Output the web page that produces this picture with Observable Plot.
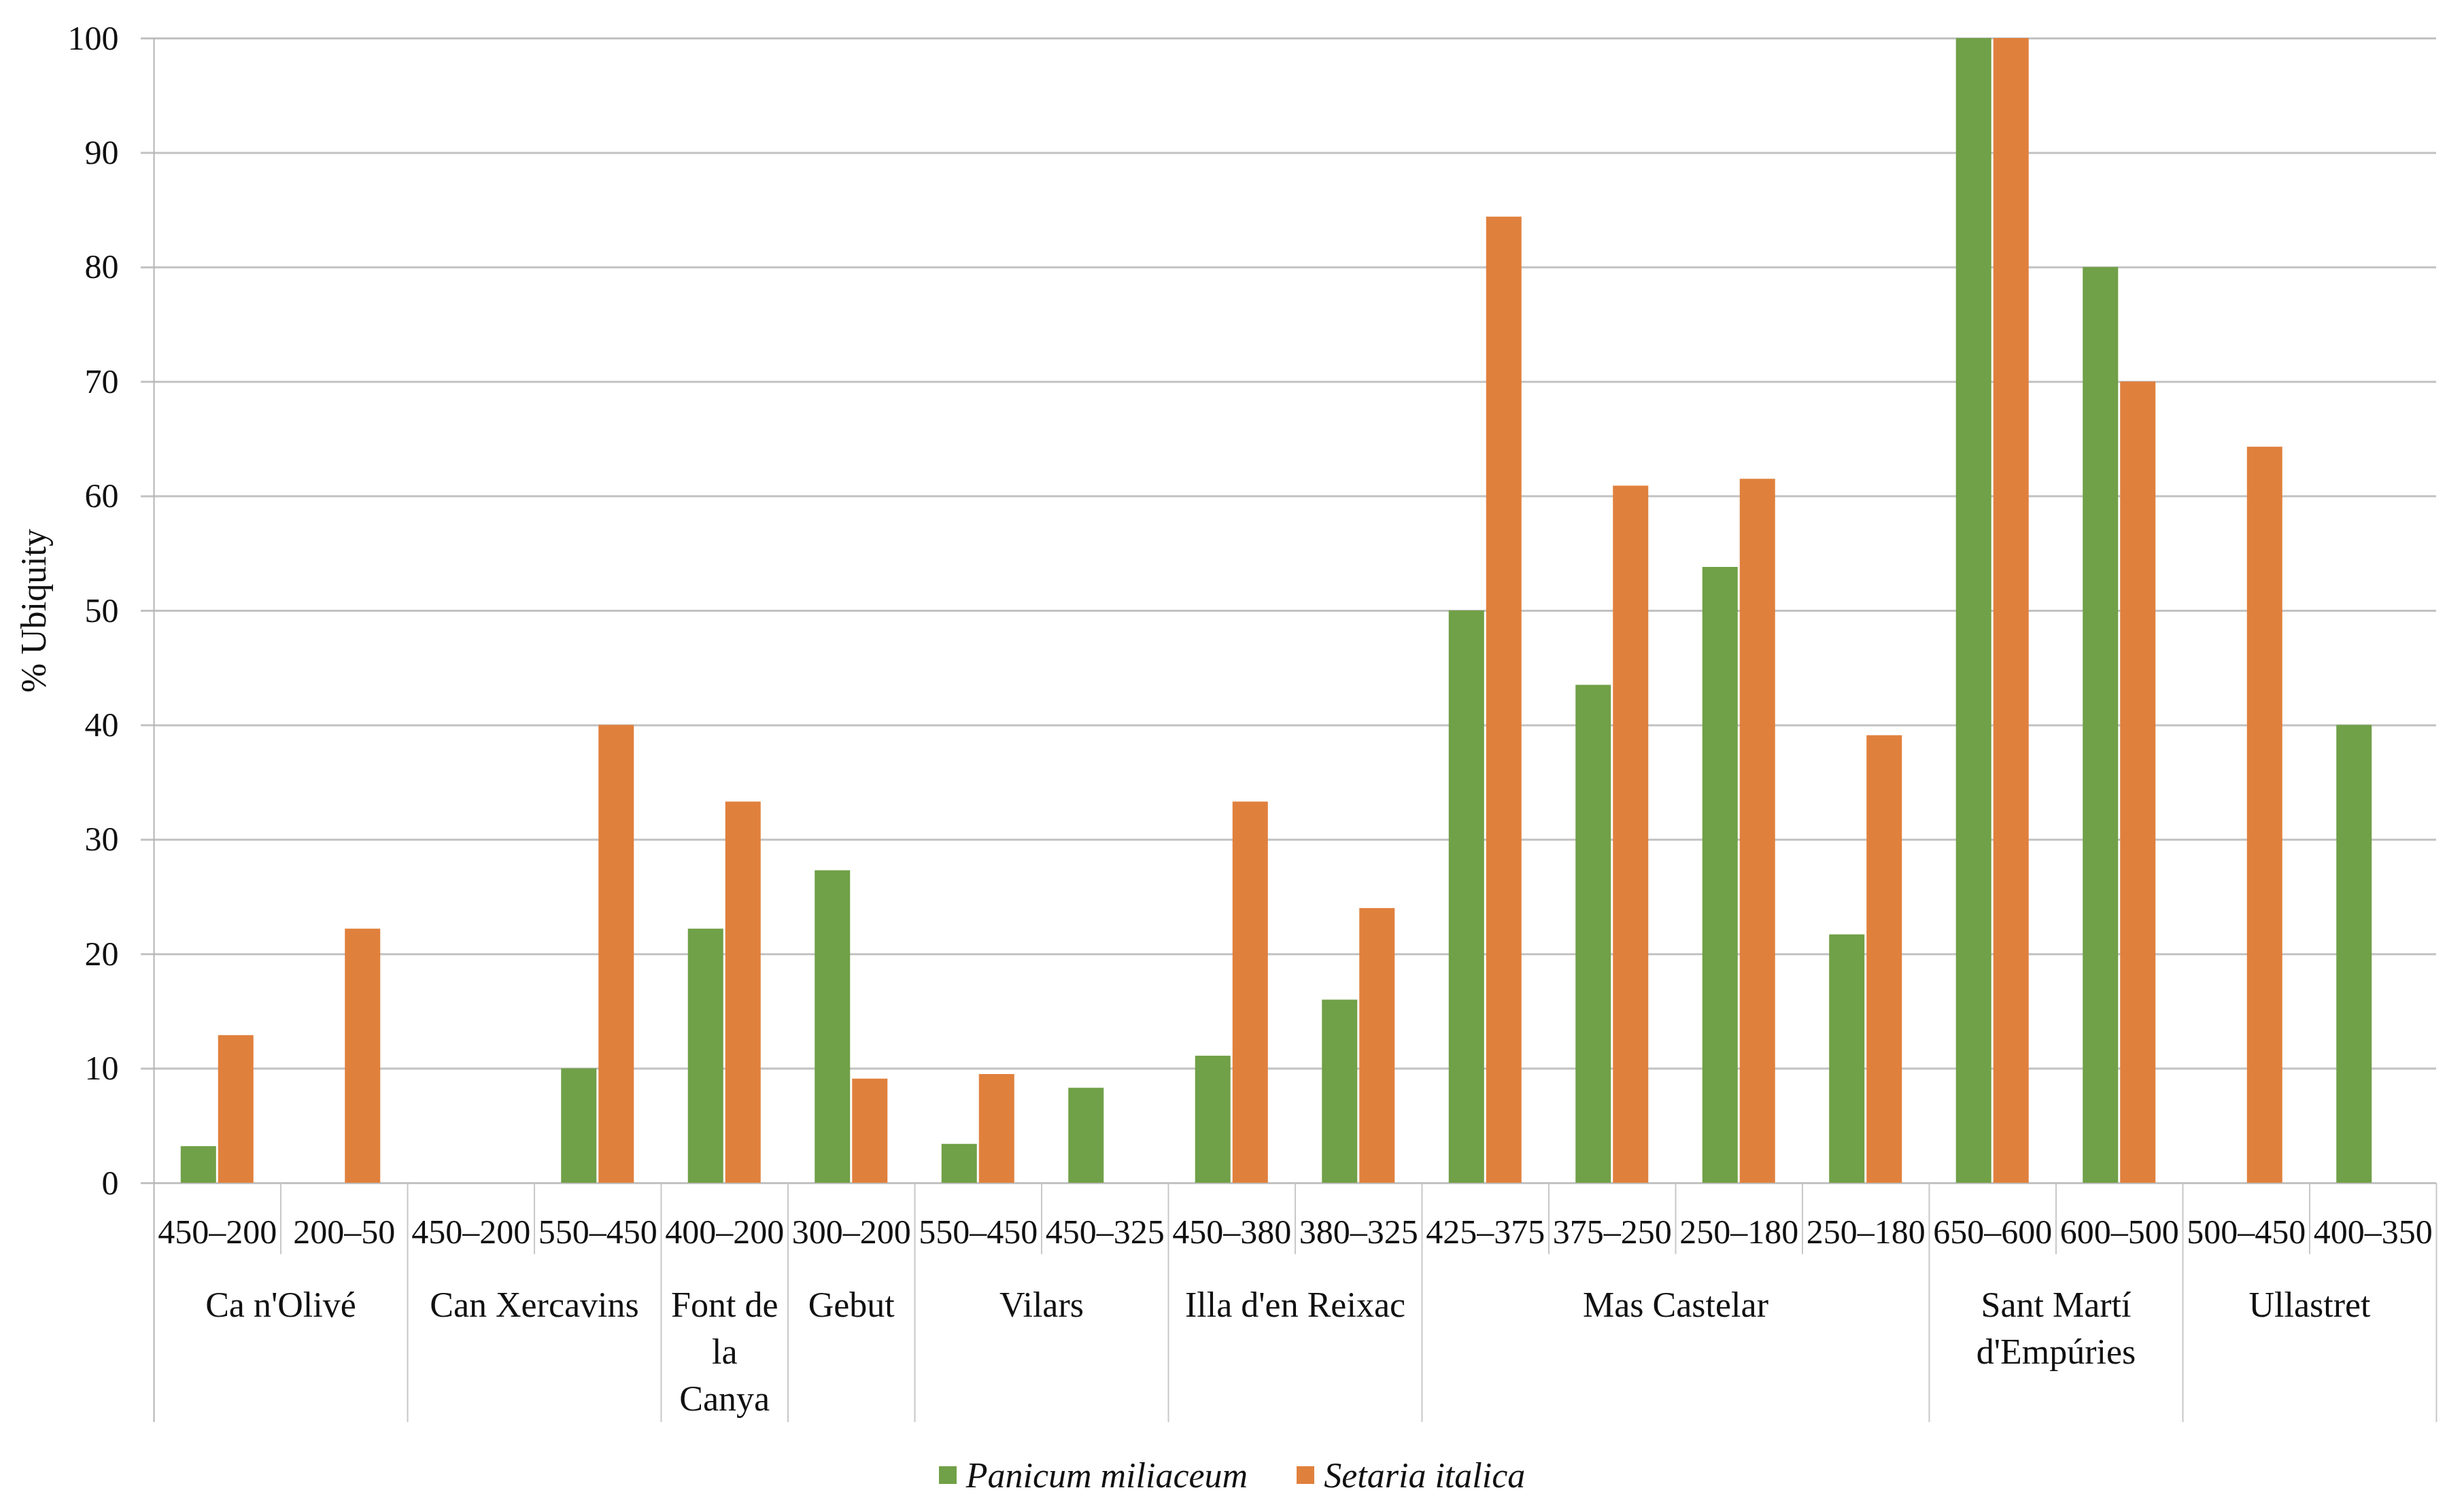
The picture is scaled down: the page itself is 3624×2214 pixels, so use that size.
<!DOCTYPE html>
<html><head><meta charset="utf-8">
<script src="https://cdn.jsdelivr.net/npm/d3@7"></script>
<script src="https://cdn.jsdelivr.net/npm/@observablehq/plot@0.6"></script>
<style>
body{margin:0;background:#fff;}
#legend{display:flex;justify-content:center;align-items:center;height:100px;font-family:"Liberation Serif",serif;font-style:italic;font-size:52px;color:#111;}
.item{display:flex;align-items:center;margin:0 36px;}
.sw{width:26px;height:26px;margin-right:14px;}
</style></head><body>
<div id="chart"></div>
<div id="legend"></div>
<script>
// ---- data ----
const periods = ["450–200","200–50","450–200","550–450","400–200","300–200","550–450","450–325","450–380","380–325","425–375","375–250","250–180","250–180","650–600","600–500","500–450","400–350"];
const sites = ["Ca n'Olivé","Can Xercavins","Font de\nla\nCanya","Gebut","Vilars","Illa d'en Reixac","Mas Castelar","Sant Martí\nd'Empúries","Ullastret"];
const siteSpans = [2,2,1,1,2,2,4,2,2];
const panicum = [3.2,0,0,10,22.2,27.3,3.4,8.3,11.1,16,50,43.5,53.8,21.7,100,80,0,40];
const setaria = [12.9,22.2,0,40,33.3,9.1,9.5,0,33.3,24,84.4,60.9,61.5,39.1,100,70,64.3,0];
const seriesNames = ["Panicum miliaceum","Setaria italica"];
const colors = ["#70a047","#e0803d"];
const yTicks = d3.range(0, 101, 10);
const yTitle = "% Ubiquity";

// ---- derived tables ----
const cats = periods.map((p, i) => ({i, period: p, panicum: panicum[i], setaria: setaria[i]}));
let acc = 0;
const groups = sites.map((name, k) => {
  const start = acc; acc += siteSpans[k];
  return {name, start, end: acc, mid: (start + acc) / 2};
});
const longB = groups.map(g => g.end);          // site boundaries (excluding 0)
const groupStarts = new Set([0, ...longB]);
const shortB = d3.range(1, periods.length).filter(b => !groupStarts.has(b));

const W = 3624, H = 2120, mL = 226, mR = 41, mT = 56, mB = 380;
const bw = (W - mL - mR) / periods.length;
const b = 52, gap = 3;
const L = (bw - 2 * b - gap) / 2;
const gridColor = "#c2c2c2";

const chart = Plot.plot({
  width: W, height: H,
  marginLeft: mL, marginRight: mR, marginTop: mT, marginBottom: mB,
  style: {fontFamily: "'Liberation Serif', serif", fontSize: "50px", color: "#111", background: "#fff", overflow: "visible"},
  x: {type: "linear", domain: [0, periods.length], axis: null},
  y: {domain: [0, 100], axis: null},
  marks: [
    Plot.ruleY(yTicks, {y: d => d, stroke: gridColor, strokeWidth: 3}),
    Plot.ruleY(yTicks, {y: d => d, x1: 0, x2: 0, insetLeft: -19, stroke: gridColor, strokeWidth: 3}),
    Plot.axisY(yTicks, {tickSize: 0, tickPadding: 52, fontSize: 50, label: null}),
    Plot.rectY(cats, {x1: "i", x2: d => d.i + 1, y1: 0, y2: "panicum", fill: colors[0], insetLeft: L, insetRight: bw - L - b}),
    Plot.rectY(cats, {x1: "i", x2: d => d.i + 1, y1: 0, y2: "setaria", fill: colors[1], insetLeft: L + b + gap, insetRight: L}),
    Plot.ruleX([0], {x: d => d, y1: 100, y2: 0, insetBottom: -352, stroke: "#b4b4b4", strokeWidth: 2}),
    Plot.ruleX(longB, {x: d => d, y1: 0, y2: 0, insetBottom: -352, stroke: "#c8c8c8", strokeWidth: 2}),
    Plot.ruleX(shortB, {x: d => d, y1: 0, y2: 0, insetBottom: -105, stroke: "#c8c8c8", strokeWidth: 2}),
    Plot.text(cats, {x: d => d.i + 0.5, y: 0, dy: 53, lineAnchor: "top", text: "period", fontSize: 50}),
    Plot.text(groups, {x: "mid", y: 0, dy: 147, lineAnchor: "top", lineHeight: 1.33, text: "name", fontSize: 52}),
    Plot.text([yTitle], {x: 0, y: 50, dx: -176, rotate: -90, text: d => d, fontSize: 52})
  ]
});
document.getElementById("chart").appendChild(chart);

const lg = document.getElementById("legend");
seriesNames.forEach((n, k) => {
  const it = document.createElement("div"); it.className = "item";
  const sw = document.createElement("div"); sw.className = "sw"; sw.style.background = colors[k];
  const tx = document.createElement("span"); tx.textContent = n;
  it.appendChild(sw); it.appendChild(tx); lg.appendChild(it);
});
</script>
</body></html>
